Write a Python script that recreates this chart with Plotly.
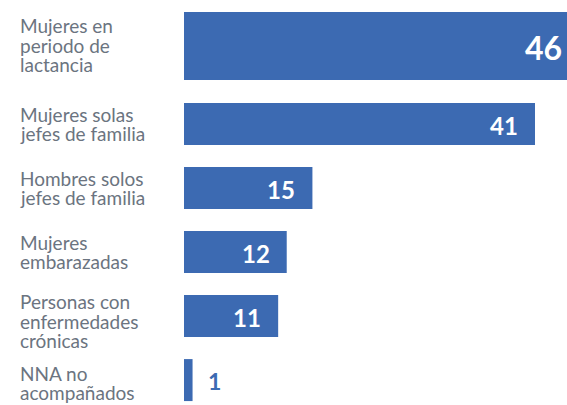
import plotly.graph_objects as go

categories = ["Mujeres en<br>periodo de<br>lactancia",
              "Mujeres solas<br>jefes de familia",
              "Hombres solos<br>jefes de familia",
              "Mujeres<br>embarazadas",
              "Personas con<br>enfermedades<br>crónicas",
              "NNA no<br>acompañados"]
values = [46, 41, 15, 12, 11, 1]

# layout: bar centre positions (first bar has extra room) and thickness
positions = [0] + [i + 0.22 for i in range(1, len(values))]
widths = [1.06] + [0.656] * (len(values) - 1)
label_nudge = [-1, 0, 0, 0, 5, 3]   # px, downward

BLUE = "#3c6ab2"
GRAY = "#6b7480"
FONT = "Lato, Open Sans, sans-serif"
W, H = 567, 405
LEFT = 184
px_per_unit = 8.561
xmax = (W - LEFT) / px_per_unit
LINE = 19.7

fig = go.Figure(go.Bar(
    x=values, y=positions, width=widths, orientation="h",
    marker=dict(color=BLUE, line=dict(width=0)),
    textposition="none", hoverinfo="skip"))

for i, (cat, v, p) in enumerate(zip(categories, values, positions)):
    lines = cat.split("<br>")
    n = len(lines)
    for k, ln in enumerate(lines):
        off = (k - (n - 1) / 2) * LINE + label_nudge[i]
        fig.add_annotation(x=(18 - LEFT) / (W - LEFT), xref="paper", y=p, yref="y",
                           text=ln, showarrow=False, xanchor="left", yanchor="middle",
                           align="left", yshift=-off,
                           font=dict(family=FONT, size=19, color=GRAY))
    if v > xmax:
        fig.add_annotation(x=1, xref="paper", y=p, yref="y", text=f"<b>{v}</b>",
                           showarrow=False, xanchor="right", yanchor="middle",
                           xshift=-3, yshift=-1,
                           font=dict(family=FONT, size=32, color="white"))
    elif v >= 5:
        fig.add_annotation(x=v, xref="x", y=p, yref="y", text=f"<b>{v}</b>",
                           showarrow=False, xanchor="right", yanchor="middle",
                           xshift=-15, yshift=-1,
                           font=dict(family=FONT, size=24, color="white"))
    else:
        fig.add_annotation(x=v, xref="x", y=p, yref="y", text=f"<b>{v}</b>",
                           showarrow=False, xanchor="left", yanchor="middle",
                           xshift=13, yshift=-1,
                           font=dict(family=FONT, size=23, color=BLUE))

fig.update_layout(
    width=W, height=H, margin=dict(l=LEFT, r=0, t=0, b=0),
    paper_bgcolor="white", plot_bgcolor="white", showlegend=False,
    xaxis=dict(range=[0, xmax], visible=False, fixedrange=True),
    yaxis=dict(range=[(H - 46) / 64, -46 / 64], visible=False, fixedrange=True),
)
fig.write_html("out.html", config={"displayModeBar": False},
               post_script="document.body.style.margin='0';document.body.style.overflow='hidden';")
